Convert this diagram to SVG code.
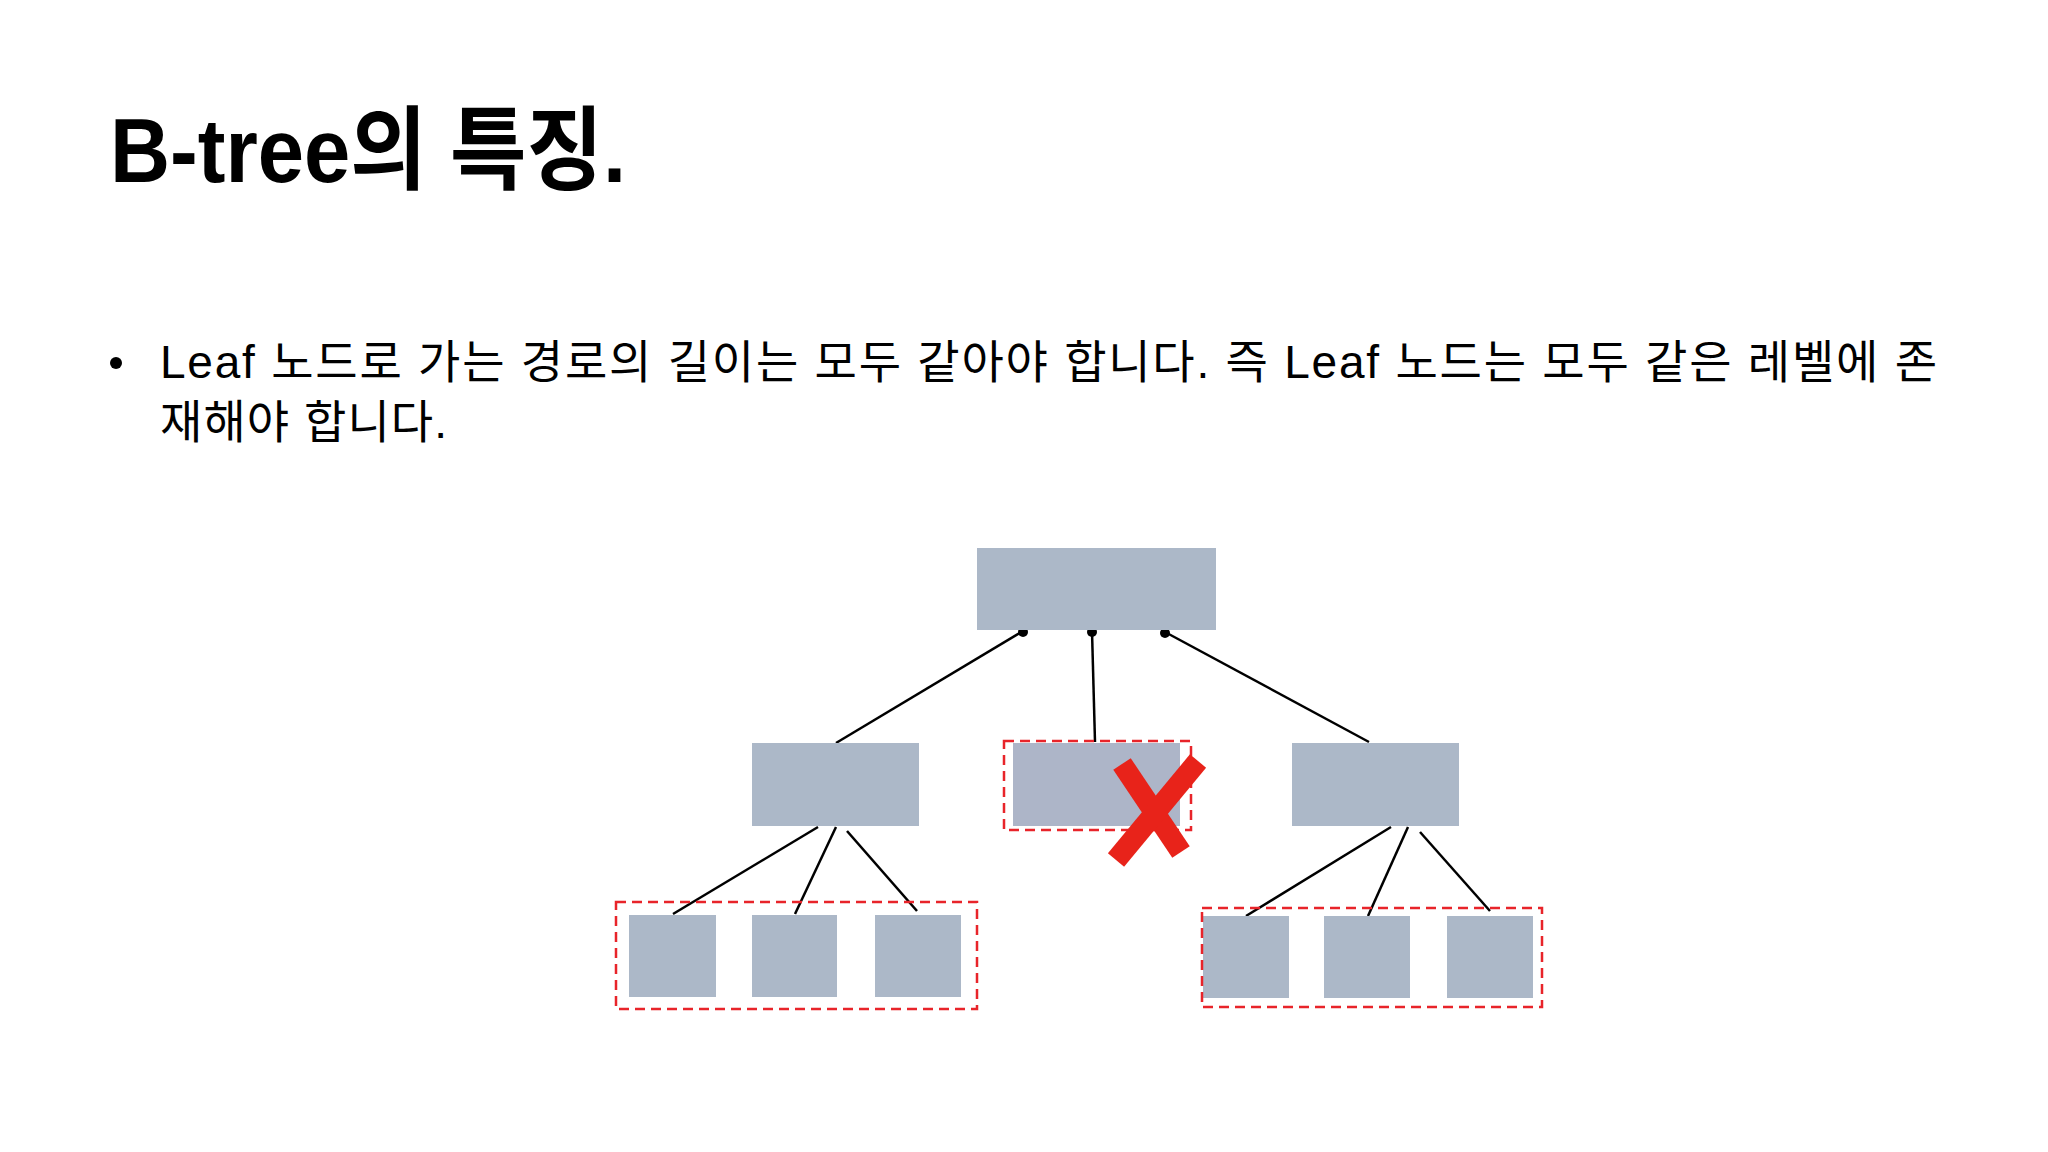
<svg xmlns="http://www.w3.org/2000/svg" width="2048" height="1152" viewBox="0 0 2048 1152">
<style>
.title{font-family:"Liberation Sans","Noto Sans CJK KR",sans-serif;font-weight:bold;font-size:91px;fill:#000}
.body{font-family:"Liberation Sans","Noto Sans CJK KR",sans-serif;font-size:46px;fill:#000}
.node{fill:#acb8c8}
.dash{fill:none;stroke:#e8242a;stroke-width:2.5;stroke-dasharray:10 6}
.edge{stroke:#000;stroke-width:2.5;fill:none}
.dot{fill:#000}
.xmark{stroke:#e8231a;stroke-width:21;fill:none;stroke-linecap:butt}
</style>
<rect width="2048" height="1152" fill="#fff"/>
<text class="title" x="110" y="182" textLength="516" lengthAdjust="spacingAndGlyphs">B-tree의 특징.</text>
<circle cx="116" cy="363" r="6" fill="#000"/>
<text class="body" x="160" y="378" textLength="1777" lengthAdjust="spacing">Leaf 노드로 가는 경로의 길이는 모두 같아야 합니다. 즉 Leaf 노드는 모두 같은 레벨에 존</text>
<text class="body" x="160" y="438" textLength="287" lengthAdjust="spacing">재해야 합니다.</text>

<g id="connectors">
<line class="edge" x1="1023" y1="631" x2="836" y2="743"/>
<line class="edge" x1="1092" y1="631" x2="1095" y2="742"/>
<line class="edge" x1="1165" y1="632" x2="1369" y2="742"/>
<line class="edge" x1="818" y1="827" x2="673" y2="914"/>
<line class="edge" x1="836" y1="827" x2="795" y2="914"/>
<line class="edge" x1="847" y1="831" x2="917" y2="911"/>
<line class="edge" x1="1391" y1="827" x2="1246" y2="916"/>
<line class="edge" x1="1408" y1="827" x2="1368" y2="916"/>
<line class="edge" x1="1420" y1="832" x2="1490" y2="911"/>
<circle class="dot" cx="1023" cy="632" r="5"/>
<circle class="dot" cx="1092" cy="632" r="5"/>
<circle class="dot" cx="1165" cy="633" r="5"/>
</g>

<g id="root"><rect class="node" x="977" y="548" width="239" height="82"/></g>
<g id="child-left"><rect class="node" x="752" y="743" width="167" height="83"/></g>
<g id="child-middle">
<rect class="node" x="1013" y="743" width="167" height="83" style="fill:#adb5c8"/>
<rect class="dash" x="1004" y="741" width="187" height="89"/>
</g>
<g id="child-right"><rect class="node" x="1292" y="743" width="167" height="83"/></g>

<g id="leaves-left">
<rect class="node" x="629" y="915" width="87" height="82"/>
<rect class="node" x="752" y="915" width="85" height="82"/>
<rect class="node" x="875" y="915" width="86" height="82"/>
<rect class="dash" x="616" y="902" width="361" height="107"/>
</g>
<g id="leaves-right">
<rect class="node" x="1203" y="916" width="86" height="82"/>
<rect class="node" x="1324" y="916" width="86" height="82"/>
<rect class="node" x="1447" y="916" width="86" height="82"/>
<rect class="dash" x="1202" y="908" width="340" height="99"/>
</g>

<g id="x-mark">
<path class="xmark" d="M1122 764 L1181 852"/>
<path class="xmark" d="M1198 761 L1116 860"/>
</g>
</svg>
